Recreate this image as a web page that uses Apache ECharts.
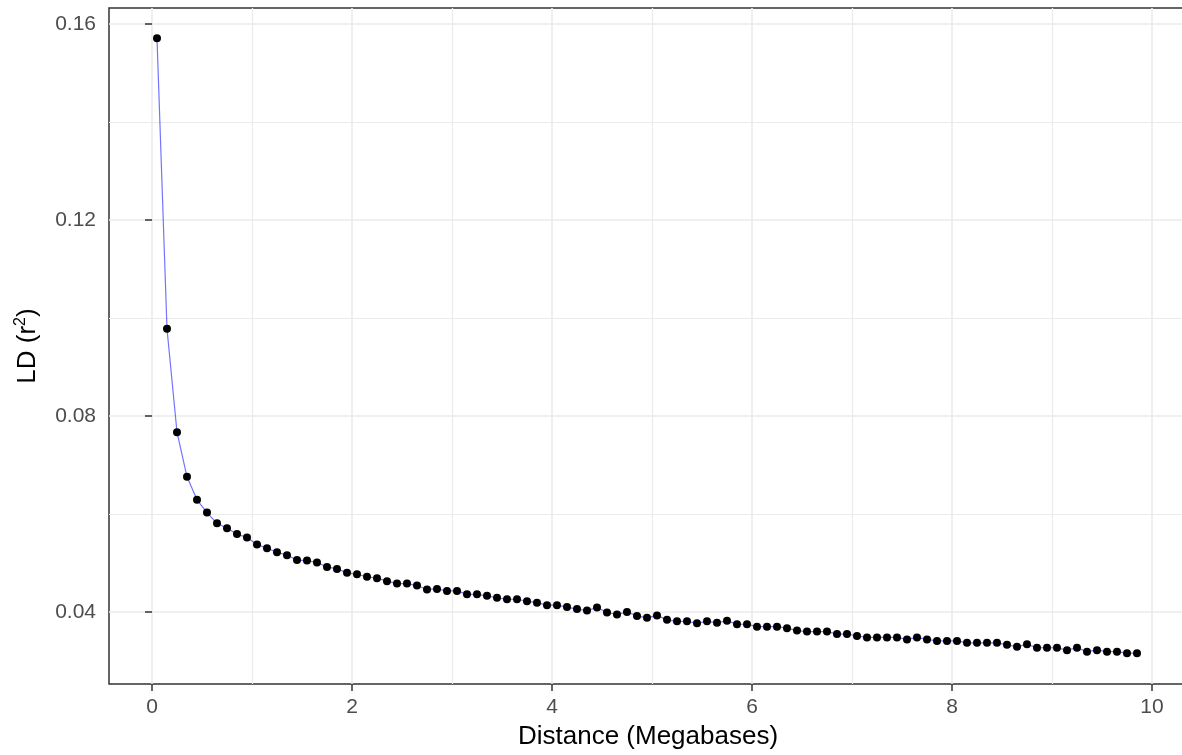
<!DOCTYPE html>
<html>
<head>
<meta charset="utf-8">
<script src="https://cdn.jsdelivr.net/npm/echarts@6/dist/echarts.min.js"></script>
<style>
  html, body { margin: 0; padding: 0; background: #fff; }
  #ld-decay { width: 1182px; height: 755px; }
</style>
</head>
<body>
<div id="ld-decay"></div>
<script>
// distance bins (Mb) and mean LD r^2
const distance = [
  0.05, 0.15, 0.25, 0.35, 0.45, 0.55, 0.65, 0.75, 0.85, 0.95,
  1.05, 1.15, 1.25, 1.35, 1.45, 1.55, 1.65, 1.75, 1.85, 1.95,
  2.05, 2.15, 2.25, 2.35, 2.45, 2.55, 2.65, 2.75, 2.85, 2.95,
  3.05, 3.15, 3.25, 3.35, 3.45, 3.55, 3.65, 3.75, 3.85, 3.95,
  4.05, 4.15, 4.25, 4.35, 4.45, 4.55, 4.65, 4.75, 4.85, 4.95,
  5.05, 5.15, 5.25, 5.35, 5.45, 5.55, 5.65, 5.75, 5.85, 5.95,
  6.05, 6.15, 6.25, 6.35, 6.45, 6.55, 6.65, 6.75, 6.85, 6.95,
  7.05, 7.15, 7.25, 7.35, 7.45, 7.55, 7.65, 7.75, 7.85, 7.95,
  8.05, 8.15, 8.25, 8.35, 8.45, 8.55, 8.65, 8.75, 8.85, 8.95,
  9.05, 9.15, 9.25, 9.35, 9.45, 9.55, 9.65, 9.75, 9.85
]
const ldR2 = [
  0.1571, 0.0978, 0.0767, 0.0676, 0.0629, 0.0603, 0.0581, 0.0571, 0.0559, 0.0552,
  0.0538, 0.0530, 0.0522, 0.0516, 0.0506, 0.0505, 0.0501, 0.0492, 0.0488, 0.0480,
  0.0477, 0.0472, 0.0469, 0.0463, 0.0458, 0.0458, 0.0454, 0.0446, 0.0447, 0.0443,
  0.0443, 0.0436, 0.0436, 0.0433, 0.0429, 0.0426, 0.0426, 0.0422, 0.0419, 0.0414,
  0.0414, 0.0410, 0.0406, 0.0403, 0.0409, 0.0399, 0.0395, 0.0400, 0.0392, 0.0388,
  0.0393, 0.0384, 0.0381, 0.0381, 0.0377, 0.0381, 0.0378, 0.0382, 0.0375, 0.0375,
  0.0370, 0.0370, 0.0370, 0.0367, 0.0362, 0.0360, 0.0360, 0.0360, 0.0355, 0.0355,
  0.0351, 0.0348, 0.0348, 0.0348, 0.0348, 0.0344, 0.0348, 0.0344, 0.0341, 0.0341,
  0.0341, 0.0337, 0.0337, 0.0337, 0.0337, 0.0333, 0.0329, 0.0334, 0.0327, 0.0327,
  0.0327, 0.0322, 0.0327, 0.0319, 0.0322, 0.0319, 0.0319, 0.0316, 0.0316
]

const xTicks = [0, 2, 4, 6, 8, 10]
const xMinor = [1, 3, 5, 7, 9]
const yTicks = [0.04, 0.08, 0.12, 0.16]
const yMinor = [0.06, 0.10, 0.14]

const points = distance.map((d, i) => [d, ldR2[i]])

const font = 'Liberation Sans, Arial, sans-serif'
const gridColor = '#EBEBEB'
const inkColor = '#333333'
const xRange = { min: -0.43, max: 10.35 }
const yRange = { min: 0.0253, max: 0.1633 }

const chart = echarts.init(document.getElementById('ld-decay'), null, { renderer: 'canvas' })
chart.setOption({
  animation: false,
  backgroundColor: '#fff',
  grid: {
    left: 109, right: -5, top: 8, bottom: 71,
    show: true, borderColor: inkColor, borderWidth: 1.5, backgroundColor: 'transparent',
    outerBoundsMode: 'none',
  },
  xAxis: [
    {
      type: 'value', ...xRange,
      name: 'Distance (Megabases)', nameLocation: 'middle', nameGap: 40,
      nameTextStyle: { color: '#000', fontSize: 26, fontFamily: font },
      axisLine: { show: false },
      axisTick: { show: true, length: 7, customValues: xTicks, lineStyle: { color: inkColor, width: 1.5 } },
      axisLabel: { customValues: xTicks, margin: 13, color: '#4D4D4D', fontSize: 21, fontFamily: font },
      splitLine: { show: true, lineStyle: { color: gridColor, width: 1.6 } },
    },
    {
      type: 'value', ...xRange, position: 'bottom',
      axisLine: { show: false },
      axisTick: { show: false, customValues: xMinor },
      axisLabel: { show: false, customValues: xMinor },
      splitLine: { show: true, lineStyle: { color: gridColor, width: 1.2 } },
    },
  ],
  yAxis: [
    {
      type: 'value', ...yRange,
      name: 'LD (r{sup|2})', nameLocation: 'middle', nameGap: 66, nameRotate: 90,
      nameTextStyle: {
        color: '#000', fontSize: 26, fontFamily: font,
        rich: { sup: { fontSize: 16, fontFamily: font, color: '#000', padding: [0, 0, 14, 0] } },
      },
      axisLine: { show: false },
      axisTick: { show: true, length: 7, customValues: yTicks, lineStyle: { color: inkColor, width: 1.5 } },
      axisLabel: {
        customValues: yTicks, margin: 13, color: '#4D4D4D', fontSize: 21, fontFamily: font,
        formatter: v => v.toFixed(2),
      },
      splitLine: { show: true, lineStyle: { color: gridColor, width: 1.6 } },
    },
    {
      type: 'value', ...yRange, position: 'left',
      axisLine: { show: false },
      axisTick: { show: false, customValues: yMinor },
      axisLabel: { show: false, customValues: yMinor },
      splitLine: { show: true, lineStyle: { color: gridColor, width: 1.2 } },
    },
  ],
  series: [
    {
      type: 'line', data: points, showSymbol: false, z: 2,
      lineStyle: { color: 'rgba(0, 0, 255, 0.55)', width: 1.2 },
    },
    {
      type: 'scatter', data: points, symbol: 'circle', symbolSize: 8, z: 3,
      itemStyle: { color: '#000', opacity: 1 },
    },
  ],
})
</script>
</body>
</html>
